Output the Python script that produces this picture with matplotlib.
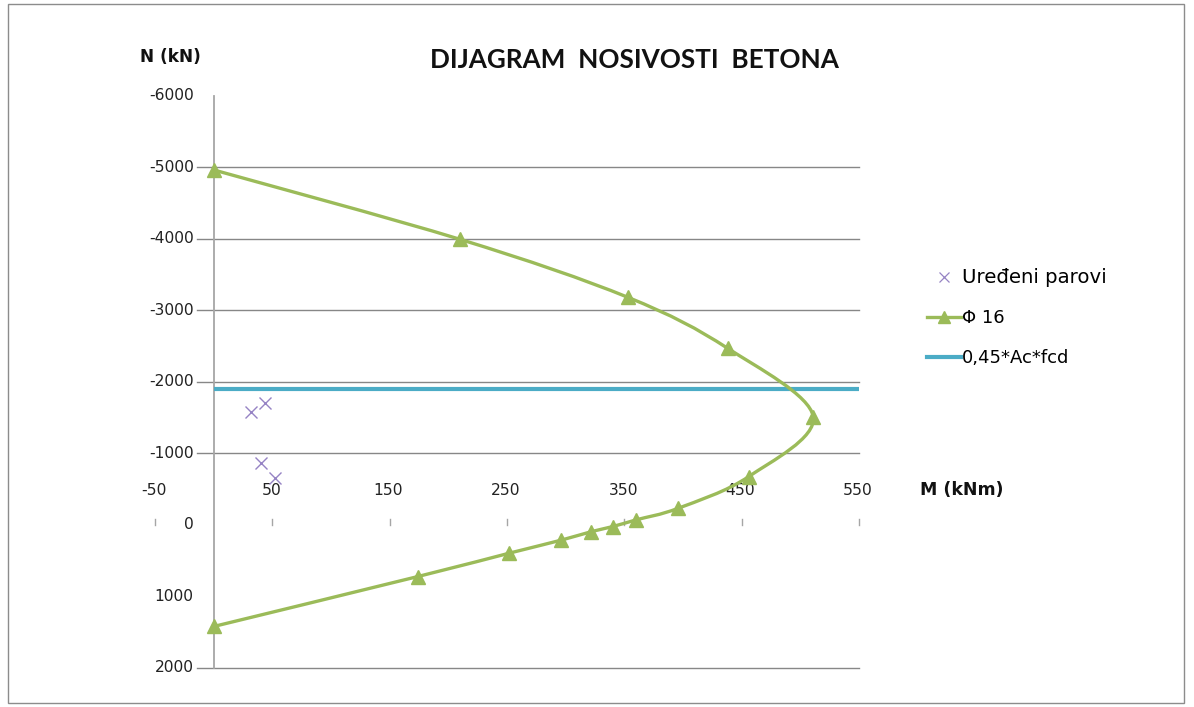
import matplotlib
matplotlib.use("Agg")
import matplotlib.pyplot as plt
from matplotlib.path import Path
from matplotlib.patches import PathPatch, Rectangle
from matplotlib.lines import Line2D
import numpy as np

# Interaction diagram of the column section (Φ 16 reinforcement)
phi16_M = [0, 210, 353, 438, 511, 456, 396, 360, 340, 322, 296, 252, 174, 0]
phi16_N = [-4960, -3990, -3180, -2468, -1513, -675, -233, -70, 24, 94, 214, 395, 722, 1420]

# Load combinations (M, N)
pairs_M = [32, 44, 40, 52]
pairs_N = [-1582, -1708, -870, -661]

# Limit of axial force 0,45*Ac*fcd
limit_N = -1900
limit_M = [0, 550]

x_ticks = [-50, 50, 150, 250, 350, 450, 550]
y_ticks = [-6000, -5000, -4000, -3000, -2000, -1000, 0, 1000, 2000]
grid_levels = [-5000, -4000, -3000, -2000, -1000, 2000]

GREEN = "#9BBB59"
BLUE = "#4BACC6"
CROSS = "#9683C4"
GRID = "#878787"
AXIS = "#A6A6A6"

W, H = 1194, 707
fig = plt.figure(figsize=(W / 100, H / 100), dpi=100)
fig.patch.set_facecolor("white")

# chart-area border
fig.add_artist(Rectangle((8 / W, 4 / H), (1184 - 8) / W, (703 - 4) / H,
                         transform=fig.transFigure, fill=False,
                         edgecolor="#8C8C8C", linewidth=1.0))

ax = fig.add_axes([155 / W, 1 - 668 / H, (859 - 155) / W, (668 - 95.5) / H])
ax.set_xlim(-50, 550)
ax.set_ylim(2000, -6000)
for s in ax.spines.values():
    s.set_visible(False)

# horizontal gridlines
for g in grid_levels:
    ax.plot([-14, 550], [g, g], color=GRID, lw=1.0, zorder=1, clip_on=False)

# vertical value axis at M = 0
ax.plot([0, 0], [-6000, 2000], color=AXIS, lw=1.3, zorder=1.5, clip_on=False)

# category-axis tick marks at N = 0
for t in x_ticks:
    ax.plot([t, t], [-84, 0], color=AXIS, lw=1.0, zorder=1, clip_on=False)

tick_font = dict(family="DejaVu Sans", fontsize=11.2, color="#222222")
ax.set_xticks([])
ax.set_yticks([])
for t in x_ticks:
    ax.text(t - 1.0, -475, f"{t}", ha="center", va="center", **tick_font)
for t in y_ticks:
    ax.text(-17, t, f"{t}", ha="right", va="center", **tick_font)

# limit line
ax.plot(limit_M, [limit_N, limit_N], color=BLUE, lw=3.0, zorder=3,
        solid_capstyle="butt")

# smoothed curve through the diagram points (Bezier segments)
P = np.column_stack([phi16_M, phi16_N]).astype(float)
n = len(P)
verts = [tuple(P[0])]
codes = [Path.MOVETO]
for i in range(n - 1):
    p0 = P[i - 1] if i > 0 else P[i]
    p1 = P[i]
    p2 = P[i + 1]
    p3 = P[i + 2] if i + 2 < n else P[i + 1]
    c1 = p1 + (p2 - p0) / 6.0
    c2 = p2 - (p3 - p1) / 6.0
    verts += [tuple(c1), tuple(c2), tuple(p2)]
    codes += [Path.CURVE4] * 3
ax.add_patch(PathPatch(Path(verts, codes), facecolor="none", edgecolor=GREEN,
                       lw=2.4, zorder=4, capstyle="round", joinstyle="round"))
ax.plot(phi16_M, phi16_N, linestyle="none", marker="^", markersize=10,
        color=GREEN, zorder=5, clip_on=False)

# load pairs
ax.plot(pairs_M, pairs_N, linestyle="none", marker="x", markersize=8,
        markeredgewidth=1.0, color=CROSS, zorder=5)

# title and axis names
fig.text(634 / W, 1 - 60 / H, "DIJAGRAM  NOSIVOSTI  BETONA", ha="center",
         va="center", family="Lato", fontweight="bold", fontsize=18.8,
         color="#111111")
fig.text(170 / W, 1 - 57 / H, "N (kN)", ha="center", va="center",
         family="DejaVu Sans", fontweight="bold", fontsize=12.2, color="#111111")
fig.text(962 / W, 1 - 490 / H, "M (kNm)", ha="center", va="center",
         family="DejaVu Sans", fontweight="bold", fontsize=12.5, color="#111111")

# legend
handles = [
    Line2D([], [], linestyle="none", marker="x", markersize=7,
           markeredgewidth=0.9, color=CROSS),
    Line2D([], [], color=GREEN, lw=2.4, marker="^", markersize=9),
    Line2D([], [], color=BLUE, lw=3.0),
]
labels = ["Uređeni parovi", "Φ 16", "0,45*Ac*fcd"]
leg = fig.legend(handles, labels, loc="upper left",
                 bbox_to_anchor=(927 / W, 1 - 268 / H), frameon=False,
                 prop=dict(family="DejaVu Sans", size=13),
                 handlelength=1.9, handletextpad=0.05, labelspacing=1.23,
                 borderaxespad=0, borderpad=0)
leg.get_texts()[0].set_fontsize(14.2)

fig.savefig("out.png", dpi=100)
